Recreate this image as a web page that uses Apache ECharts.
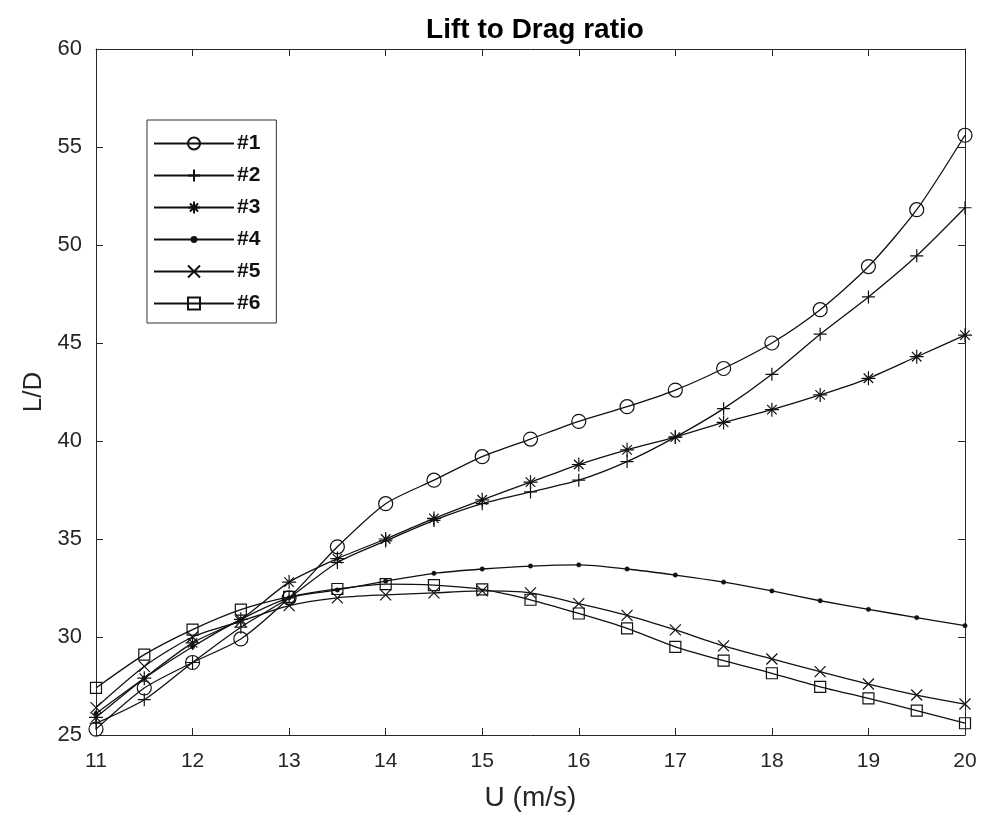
<!DOCTYPE html>
<html>
<head>
<meta charset="utf-8">
<script src="https://cdn.jsdelivr.net/npm/echarts@6/dist/echarts.min.js"></script>
<style>html,body{margin:0;padding:0;background:#fff}#c{width:987px;height:819px}</style>
</head>
<body>
<div id="c"></div>
<script>
// Data
const U = [11, 11.5, 12, 12.5, 13, 13.5, 14, 14.5, 15, 15.5, 16, 16.5, 17, 17.5, 18, 18.5, 19, 19.5, 20];
const s1 = [25.3, 27.4, 28.7, 29.9, 32.0, 34.6, 36.8, 38.0, 39.2, 40.1, 41.0, 41.75, 42.6, 43.7, 45.0, 46.7, 48.9, 51.8, 55.6];
const s2 = [25.6, 26.8, 28.7, 30.5, 32.0, 33.8, 34.9, 35.95, 36.8, 37.4, 38.0, 38.95, 40.2, 41.65, 43.4, 45.45, 47.35, 49.45, 51.9];
const s3 = [25.9, 27.9, 29.7, 30.9, 32.8, 34.0, 35.0, 36.05, 37.0, 37.9, 38.8, 39.55, 40.2, 40.95, 41.6, 42.35, 43.2, 44.3, 45.4];
const s4 = [26.1, 27.9, 29.5, 30.9, 32.0, 32.4, 32.85, 33.25, 33.47, 33.62, 33.68, 33.47, 33.16, 32.8, 32.35, 31.85, 31.41, 30.99, 30.58];
const s5 = [26.4, 28.5, 30.0, 30.8, 31.6, 32.0, 32.15, 32.25, 32.35, 32.25, 31.7, 31.1, 30.36, 29.55, 28.88, 28.23, 27.6, 27.04, 26.58];
const s6 = [27.4, 29.1, 30.38, 31.4, 32.05, 32.45, 32.7, 32.65, 32.43, 31.9, 31.2, 30.44, 29.5, 28.79, 28.15, 27.46, 26.87, 26.24, 25.6];
const names = ['#1', '#2', '#3', '#4', '#5', '#6'];
const seriesValues = [s1, s2, s3, s4, s5, s6];

const symbols = [
  'circle',
  'path://M5,0L5,10M0,5L10,5',
  'path://M5,0L5,10M0,5L10,5M1.6,1.6L8.4,8.4M8.4,1.6L1.6,8.4',
  'path://M0,0M10,10M7,5A2,2,0,1,1,3,5A2,2,0,1,1,7,5Z',
  'path://M0,0L10,10M10,0L0,10',
  'rect'
];
const sizes = [14, 13, 14, 11, 11, 11];

const axisColor = '#262626';
const font = 'Liberation Sans, Arial, sans-serif';

const chart = echarts.init(document.getElementById('c'), null, {renderer: 'canvas'});

const series = names.map((n, i) => ({
  name: n,
  type: 'line',
  xAxisIndex: 0,
  yAxisIndex: 0,
  data: U.map((u, k) => [u, seriesValues[i][k]]),
  smooth: 0.25,
  symbol: symbols[i],
  symbolSize: sizes[i],
  showAllSymbol: true,
  lineStyle: {color: '#111', width: 1.3},
  itemStyle: i === 3
    ? {color: '#111', borderColor: '#111', borderWidth: 0.5}
    : {color: 'rgba(255,255,255,0)', borderColor: '#111', borderWidth: 1.2},
  emphasis: {disabled: true},
  z: 2
}));

const option = {
  backgroundColor: '#fff',
  animation: false,
  title: {
    text: 'Lift to Drag ratio',
    left: 530, top: 11, textAlign: 'center',
    textStyle: {fontFamily: font, fontWeight: 'bold', fontSize: 28, color: '#000'}
  },
  legend: {
    orient: 'vertical',
    left: 147, top: 120,
    padding: [13, 16, 9, 6],
    itemWidth: 80, itemHeight: 15, itemGap: 11,
    backgroundColor: '#fff',
    borderColor: '#333', borderWidth: 1,
    textStyle: {fontFamily: font, fontSize: 21, fontWeight: 'bold', color: '#111', padding: [0,0,0,-2]},
    data: names
  },
  grid: {left: 96, right: 22, top: 49, bottom: 84, containLabel: false},
  xAxis: [{
    type: 'value', min: 11, max: 20, interval: 1, position: 'bottom',
    name: 'U (m/s)', nameLocation: 'middle', nameGap: 49,
    nameTextStyle: {fontFamily: font, fontSize: 28, color: axisColor},
    axisLine: {show: true, lineStyle: {color: axisColor, width: 1}},
    axisTick: {show: true, inside: true, length: 7, lineStyle: {color: axisColor}},
    axisLabel: {fontFamily: font, fontSize: 21, color: axisColor, margin: 16},
    splitLine: {show: false}
  }, {
    type: 'value', min: 11, max: 20, interval: 1, position: 'top',
    axisLine: {show: true, lineStyle: {color: axisColor, width: 1}},
    axisTick: {show: true, inside: true, length: 7, lineStyle: {color: axisColor}},
    axisLabel: {show: false},
    splitLine: {show: false}
  }],
  yAxis: [{
    type: 'value', min: 25, max: 60, interval: 5, position: 'left',
    name: 'L/D', nameLocation: 'middle', nameGap: 45, nameRotate: 90,
    nameTextStyle: {fontFamily: font, fontSize: 26, color: axisColor},
    axisLine: {show: true, lineStyle: {color: axisColor, width: 1}},
    axisTick: {show: true, inside: true, length: 7, lineStyle: {color: axisColor}},
    axisLabel: {fontFamily: font, fontSize: 22, color: axisColor, margin: 14},
    splitLine: {show: false}
  }, {
    type: 'value', min: 25, max: 60, interval: 5, position: 'right',
    axisLine: {show: true, lineStyle: {color: axisColor, width: 1}},
    axisTick: {show: true, inside: true, length: 7, lineStyle: {color: axisColor}},
    axisLabel: {show: false},
    splitLine: {show: false}
  }],
  series: series
};
chart.setOption(option);
</script>
</body>
</html>
